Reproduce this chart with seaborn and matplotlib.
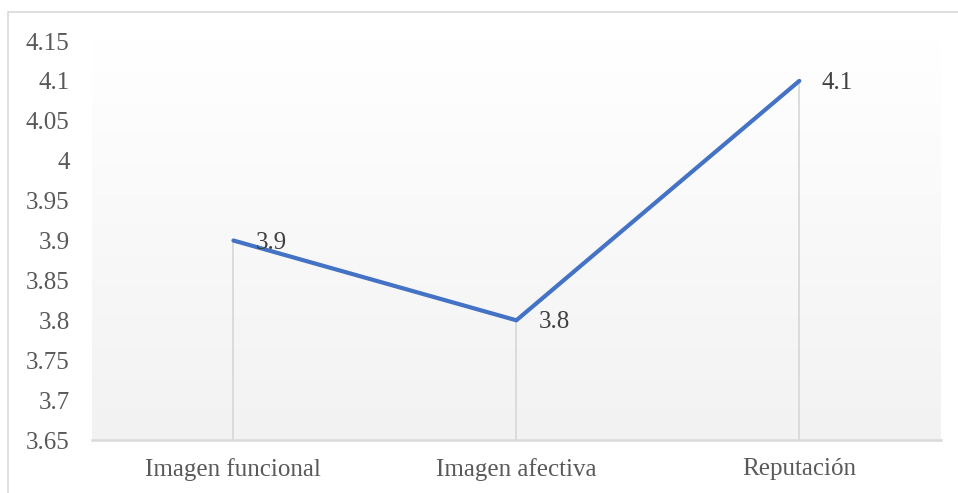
import numpy as np
import pandas as pd
import matplotlib
matplotlib.use("Agg")
import matplotlib.pyplot as plt
from matplotlib.patches import Rectangle
import seaborn as sns

categories = ["Imagen funcional", "Imagen afectiva", "Reputación"]
values = [3.9, 3.8, 4.1]
y_ticks = [3.65, 3.7, 3.75, 3.8, 3.85, 3.9, 3.95, 4.0, 4.05, 4.1, 4.15]
y_tick_labels = ["3.65", "3.7", "3.75", "3.8", "3.85", "3.9", "3.95", "4", "4.05", "4.1", "4.15"]

sns.set_style("white")
plt.rcParams["font.family"] = ["Liberation Serif", "DejaVu Serif"]

df = pd.DataFrame({"categoria": categories, "valor": values})
df["pos"] = np.arange(len(categories))

fig = plt.figure(figsize=(9.58, 4.93), dpi=100)
ax = fig.add_axes([0.096, 0.1075, 0.886, 0.8093])

# outer chart frame
fig.patches.append(Rectangle((8 / 958, -0.05), 1.2, 1 - 12 / 493 + 0.05,
                             transform=fig.transFigure, fill=False,
                             edgecolor="#D9D9D9", linewidth=1.2, zorder=0))

ymin, ymax = y_ticks[0], y_ticks[-1]
xmin, xmax = -0.5, len(categories) - 0.5

# vertical gradient in the plot area: white at the top, light grey at the bottom
cmap = matplotlib.colors.LinearSegmentedColormap.from_list("bg", ["#F2F2F2", "#FFFFFF"])
ax.imshow(np.linspace(1.0, 0.0, 256).reshape(-1, 1), extent=[xmin, xmax, ymin, ymax],
          aspect="auto", cmap=cmap, origin="upper", zorder=0, interpolation="bicubic")

# drop lines from each point to the axis
ax.vlines(df["pos"], ymin, df["valor"], colors="#D9D9D9", linewidth=1.3, zorder=1)

sns.lineplot(data=df, x="pos", y="valor", ax=ax, color="#4472C4",
             linewidth=3.0, zorder=3, solid_capstyle="round", solid_joinstyle="round")

for x, v in zip(df["pos"], df["valor"]):
    ax.annotate(f"{v:g}", (x, v), xytext=(16, -1.5), textcoords="offset points",
                ha="left", va="center", fontsize=18, color="#404040", zorder=4)

ax.set_xlim(xmin, xmax)
ax.set_ylim(ymin, ymax)
ax.set_xticks(df["pos"])
ax.set_xticklabels(categories)
ax.set_yticks(y_ticks)
ax.set_yticklabels(y_tick_labels)
ax.tick_params(axis="both", length=0, labelsize=18, labelcolor="#595959")
ax.tick_params(axis="y", pad=16)
ax.tick_params(axis="x", pad=13)
ax.set_xlabel("")
ax.set_ylabel("")

for side in ["top", "right", "left"]:
    ax.spines[side].set_visible(False)
ax.spines["bottom"].set_color("#D9D9D9")
ax.spines["bottom"].set_linewidth(1.8)
ax.spines["bottom"].set_zorder(2)

fig.savefig("out.png", dpi=100)
